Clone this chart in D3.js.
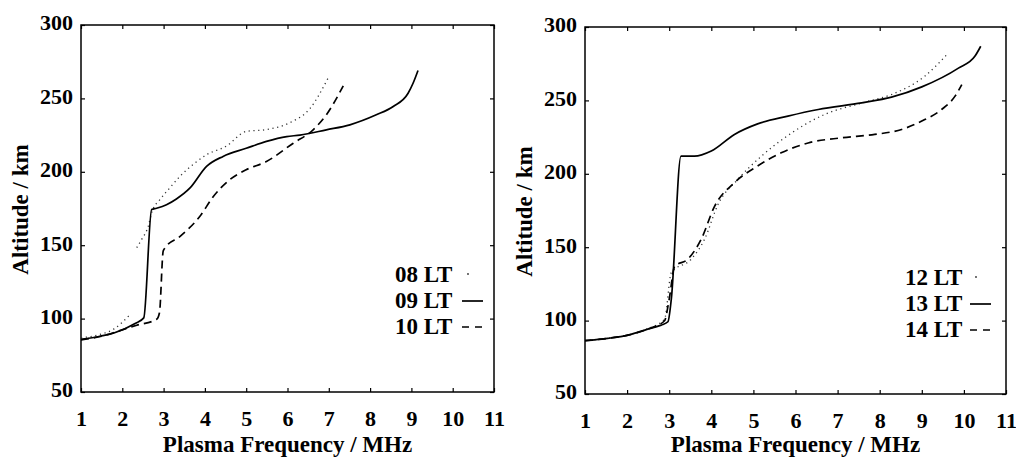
<!DOCTYPE html>
<html>
<head>
<meta charset="utf-8">
<script src="https://cdn.jsdelivr.net/npm/d3@7/dist/d3.min.js"></script>
</head>
<body style="margin:0;padding:0;background:#fff">
<svg id="fig" width="1016" height="457" font-family="Liberation Serif"></svg>
<script>
// ---- Data (frequency MHz, altitude km) ----
const xTicks = [1, 2, 3, 4, 5, 6, 7, 8, 9, 10, 11];
const yTicks = [50, 100, 150, 200, 250, 300];
const xTitle = "Plasma Frequency / MHz";
const yTitle = "Altitude / km";

const lt08 = [[1.0, 87], [1.46, 89.2], [1.8, 93], [2.0, 97.5], [2.19, 102.8], null,
  [2.35, 148.3], [2.47, 154], [2.63, 163], [2.72, 173], [2.91, 181], [3.15, 189], [3.4, 197], [3.76, 206],
  [4.04, 211.6], [4.52, 217.5], [5.0, 227.5], [5.49, 228.8], [6.06, 233.5], [6.54, 243], [6.98, 263.7]];
const lt09 = [[1.0, 85.8], [1.46, 88], [1.78, 90], [2.31, 96.7], [2.52, 100.5], [2.71, 174.3],
  [2.83, 175.2], [3.07, 177.6], [3.31, 181.5], [3.64, 189], [4.04, 203.7], [4.44, 210.5], [5.0, 216],
  [5.49, 220.7], [5.98, 224], [6.3, 225], [6.94, 228.6], [7.51, 232], [8.15, 238.8], [8.56, 244.5],
  [8.92, 253.5], [9.04, 260.3], [9.16, 269]];
const lt10 = [[1.0, 85.5], [1.5, 88], [2.02, 92.6], [2.35, 95.5], [2.83, 99.5], [2.9, 104], [2.99, 146],
  [3.03, 148], [3.4, 156], [3.88, 169.7], [4.2, 183], [4.6, 194.6], [5.0, 201.4], [5.49, 207],
  [6.14, 219.5], [6.62, 228.6], [6.94, 238.8], [7.35, 258.5]];

const lt12 = [[1.0, 86.3], [1.54, 88], [2.02, 90.2], [2.49, 94.5], [2.89, 101], [3.05, 132.7],
  [3.52, 141.8], [3.84, 155.4], [4.16, 179.2], [4.63, 196.2], [5.19, 212], [5.74, 224.5],
  [6.69, 240.4], [7.65, 248.8], [8.28, 254], [9.07, 266.5], [9.63, 282.3]];
const lt13 = [[1.0, 86.3], [1.54, 87.9], [2.02, 90.1], [2.49, 94.2], [2.81, 96.9], [2.97, 99.2],
  [3.05, 114.6], [3.28, 212], [3.6, 212], [4.0, 215.5], [4.55, 226.8], [5.1, 234], [5.82, 239.3],
  [6.54, 243.8], [7.57, 248.3], [8.28, 252.2], [9.0, 259.2], [9.87, 272], [10.26, 280], [10.4, 286.9]];
const lt14 = [[1.0, 86.3], [1.54, 87.9], [2.02, 90.1], [2.49, 94.2], [2.89, 99.9], [3.0, 114.6],
  [3.13, 137], [3.44, 141.8], [3.76, 155.4], [4.08, 178], [4.55, 194], [5.1, 205.3], [5.66, 214.3],
  [6.3, 221], [7.09, 224.5], [7.88, 226.8], [8.52, 230.2], [9.0, 235.9], [9.47, 243.8], [9.79, 252.9],
  [9.95, 260.8]];

const leftLabels = ["08 LT", "09 LT", "10 LT"];
const rightLabels = ["12 LT", "13 LT", "14 LT"];

// ---- Styles ----
const styles = {
  dotted: { width: 1.3, dash: "1.2,3.6", color: "#333" },
  solid: { width: 1.7, dash: null, color: "#000" },
  dashed: { width: 1.7, dash: "8,5", color: "#000" }
};
const styleOrder = ["dotted", "solid", "dashed"];
const FONT = "Liberation Serif";
const FS_TICK = 22, FS_TITLE = 23, FS_LEG = 23;

const svg = d3.select("#fig");

function txt(sel, size) {
  return sel.attr("font-family", FONT).attr("font-weight", "bold").attr("font-size", size).attr("fill", "#000");
}

function panel(cfg) {
  const x = d3.scaleLinear().domain([1, 11]).range([cfg.x0, cfg.x1]);
  const y = d3.scaleLinear().domain([50, 300]).range([cfg.y1, cfg.y0]);
  const g = svg.append("g");

  g.append("rect").attr("x", cfg.x0).attr("y", cfg.y0)
    .attr("width", cfg.x1 - cfg.x0).attr("height", cfg.y1 - cfg.y0)
    .attr("fill", "none").attr("stroke", "#000").attr("stroke-width", 1.5);

  const tl = 4;
  const bottom = g.append("g").attr("transform", `translate(0,${cfg.y1})`)
    .call(d3.axisBottom(x).tickValues(xTicks).tickSizeInner(-tl).tickSizeOuter(0).tickPadding(18));
  const top = g.append("g").attr("transform", `translate(0,${cfg.y0})`)
    .call(d3.axisTop(x).tickValues(xTicks).tickSizeInner(-tl).tickSizeOuter(0).tickFormat(""));
  const left = g.append("g").attr("transform", `translate(${cfg.x0},0)`)
    .call(d3.axisLeft(y).tickValues(yTicks).tickSizeInner(-tl).tickSizeOuter(0).tickPadding(8));
  const right = g.append("g").attr("transform", `translate(${cfg.x1},0)`)
    .call(d3.axisRight(y).tickValues(yTicks).tickSizeInner(-tl).tickSizeOuter(0).tickFormat(""));
  [bottom, top, left, right].forEach(a => {
    a.attr("font-family", FONT).attr("font-size", FS_TICK);
    a.select(".domain").remove();
    a.selectAll(".tick line").attr("stroke", "#000").attr("stroke-width", 1.2);
    txt(a.selectAll("text"), FS_TICK);
  });
  left.selectAll(".tick text").attr("dy", "0.22em");

  txt(g.append("text"), FS_TITLE).attr("x", (cfg.x0 + cfg.x1) / 2).attr("y", 452)
    .attr("text-anchor", "middle").text(xTitle);
  txt(g.append("text"), FS_TITLE).attr("transform", `translate(${cfg.yt},${(cfg.y0 + cfg.y1) / 2 + 1}) rotate(-90)`)
    .attr("text-anchor", "middle").attr("dy", "0.35em").text(yTitle);

  const lineGen = d3.line().defined(d => d !== null).x(d => x(d[0])).y(d => y(d[1])).curve(d3.curveMonotoneX);
  cfg.series.forEach((s, i) => {
    const st = styles[styleOrder[i]];
    g.append("path").datum(s).attr("d", lineGen)
      .attr("fill", "none").attr("stroke", st.color).attr("stroke-width", st.width)
      .attr("stroke-dasharray", st.dash).attr("stroke-linejoin", "round");
  });

  cfg.labels.forEach((lab, i) => {
    const cy = cfg.ly[i];
    txt(g.append("text"), FS_LEG).attr("x", cfg.lx).attr("y", cy).attr("dy", "0.35em").text(lab);
    const st = styles[styleOrder[i]];
    if (i === 0) {
      g.append("circle").attr("cx", cfg.sx0 + 6).attr("cy", cy).attr("r", 0.9).attr("fill", "#333");
    } else {
      g.append("line").attr("x1", cfg.sx0).attr("x2", cfg.sx1).attr("y1", cy + 1).attr("y2", cy + 1)
        .attr("stroke", "#000").attr("stroke-width", st.width)
        .attr("stroke-dasharray", i === 2 ? "7,6" : null);
    }
  });
}

panel({ x0: 81, x1: 494, y0: 25, y1: 392, yt: 20, series: [lt08, lt09, lt10], labels: leftLabels,
  lx: 395, ly: [274, 300, 326], sx0: 462, sx1: 483 });
panel({ x0: 585, x1: 1006, y0: 27, y1: 394, yt: 524, series: [lt12, lt13, lt14], labels: rightLabels,
  lx: 905, ly: [277, 303, 329], sx0: 970, sx1: 991 });
</script>
</body>
</html>
